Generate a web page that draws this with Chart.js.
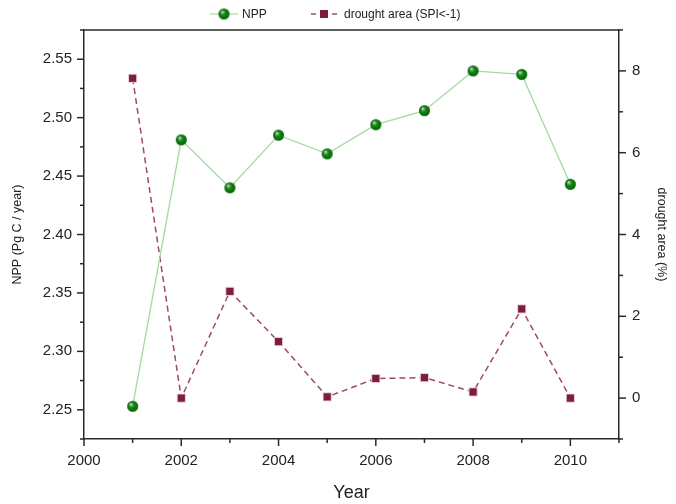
<!DOCTYPE html>
<html>
<head>
<meta charset="utf-8">
<script src="https://cdn.jsdelivr.net/npm/chart.js@4/dist/chart.umd.min.js"></script>
<style>
  html, body { margin: 0; padding: 0; background: #ffffff; }
  #wrap { width: 676px; height: 504px; position: relative; }
</style>
</head>
<body>
<div id="wrap"><canvas id="c" width="676" height="504"></canvas></div>
<script>
// Annual NPP and drought-affected area, 2001-2010
const years = [2001, 2002, 2003, 2004, 2005, 2006, 2007, 2008, 2009, 2010];
const nppValues = [2.253, 2.481, 2.440, 2.485, 2.469, 2.494, 2.506, 2.540, 2.537, 2.443];
const droughtValues = [7.82, 0.00, 2.61, 1.38, 0.03, 0.48, 0.50, 0.15, 2.18, 0.00];

// Axis ranges and tick steps
const xRange = [2000, 2011];
const nppRange = [2.225, 2.575];
const droughtRange = [-1, 9];
const xStep = 1, nppStep = 0.025, droughtStep = 1;

const seriesNames = ['NPP', 'drought area (SPI<-1)'];
const axisTitles = { x: 'Year', y: 'NPP (Pg C / year)', y1: 'drought area (%)' };

const GREEN_LINE = '#a6d9a2';
const MAROON_LINE = '#a0486a';
const MAROON = '#7c1d3e';
const AXIS = '#2a2a2a';
const TEXT = '#222222';
const FONT = "'Liberation Sans', Arial, sans-serif";

// Shaded green sphere used as the NPP marker
function makeSphere(r) {
  const s = Math.ceil(r * 2 + 2);
  const cv = document.createElement('canvas');
  cv.width = s; cv.height = s;
  const g = cv.getContext('2d');
  const cx = s / 2, cy = s / 2;
  const grad = g.createRadialGradient(cx - r * 0.35, cy - r * 0.4, r * 0.08, cx, cy, r);
  grad.addColorStop(0, '#d8d8d8');
  grad.addColorStop(0.22, '#6a9a6a');
  grad.addColorStop(0.45, '#0b8a0b');
  grad.addColorStop(1, '#056005');
  g.fillStyle = grad;
  g.beginPath(); g.arc(cx, cy, r, 0, Math.PI * 2); g.fill();
  return cv;
}
const sphere = makeSphere(5.5);

function xy(xs, ys) { return xs.map((x, i) => ({ x: x, y: ys[i] })); }

function isMajor(scaleId, v) {
  if (scaleId === 'y') return Math.round(v * 40) % 2 === 0;
  return Math.round(v) % 2 === 0;
}

// Outward major/minor tick marks, frame line on top, and the legend row
const decorations = {
  id: 'decorations',
  afterDraw(chart) {
    const ctx = chart.ctx;
    const area = chart.chartArea;
    ctx.save();
    ctx.strokeStyle = AXIS;
    ctx.lineWidth = 1.5;
    // top frame
    ctx.beginPath();
    ctx.moveTo(area.left, area.top);
    ctx.lineTo(area.right, area.top);
    ctx.stroke();
    ['x', 'y', 'y1'].forEach(id => {
      const sc = chart.scales[id];
      sc.ticks.forEach(t => {
        const len = isMajor(id, t.value) ? 7 : 4;
        const p = sc.getPixelForValue(t.value);
        ctx.beginPath();
        if (id === 'x') { ctx.moveTo(p, area.bottom); ctx.lineTo(p, area.bottom + len); }
        else if (id === 'y') { ctx.moveTo(area.left, p); ctx.lineTo(area.left - len, p); }
        else { ctx.moveTo(area.right, p); ctx.lineTo(area.right + len, p); }
        ctx.stroke();
      });
    });

    // legend
    const ly = 14;
    ctx.lineWidth = 1.2;
    ctx.strokeStyle = GREEN_LINE;
    ctx.setLineDash([]);
    ctx.beginPath(); ctx.moveTo(210, ly); ctx.lineTo(238, ly); ctx.stroke();
    ctx.drawImage(sphere, 224 - sphere.width / 2, ly - sphere.height / 2);
    ctx.strokeStyle = MAROON_LINE;
    ctx.lineWidth = 1.5;
    ctx.beginPath(); ctx.moveTo(311, ly); ctx.lineTo(316, ly); ctx.moveTo(332, ly); ctx.lineTo(337, ly); ctx.stroke();
    ctx.fillStyle = MAROON;
    ctx.fillRect(320, ly - 4, 8, 8);
    ctx.fillStyle = TEXT;
    ctx.font = '12px ' + FONT;
    ctx.textBaseline = 'middle';
    ctx.textAlign = 'left';
    ctx.fillText(seriesNames[0], 242, ly + 0.5);
    ctx.fillText(seriesNames[1], 344, ly + 0.5);
    ctx.restore();
  }
};

function tickLabel(id) {
  return function (v) {
    if (!isMajor(id, v)) return '';
    if (id === 'y') return v.toFixed(2);
    return String(Math.round(v));
  };
}

new Chart(document.getElementById('c'), {
  type: 'line',
  data: {
    datasets: [
      {
        label: seriesNames[0],
        data: xy(years, nppValues),
        yAxisID: 'y',
        borderColor: GREEN_LINE,
        borderWidth: 1.3,
        pointStyle: sphere,
        pointRadius: 5.5,
        pointHoverRadius: 5.5,
        tension: 0,
        fill: false
      },
      {
        label: seriesNames[1],
        data: xy(years, droughtValues),
        yAxisID: 'y1',
        borderColor: MAROON_LINE,
        borderWidth: 1.5,
        borderDash: [6, 4],
        pointStyle: 'rect',
        pointRadius: 5.8,
        pointHoverRadius: 5.8,
        pointBackgroundColor: MAROON,
        pointBorderColor: 'rgba(240,215,225,0.9)',
        pointBorderWidth: 1,
        tension: 0,
        fill: false
      }
    ]
  },
  options: {
    responsive: false,
    animation: false,
    events: [],
    layout: { padding: { top: 30, left: 0, right: 0, bottom: 0 } },
    plugins: { legend: { display: false }, tooltip: { enabled: false } },
    scales: {
      x: {
        type: 'linear',
        min: xRange[0], max: xRange[1],
        ticks: { stepSize: xStep, autoSkip: false, maxRotation: 0, callback: tickLabel('x'),
                 color: TEXT, font: { family: FONT, size: 15 }, padding: 6 },
        grid: { display: false, drawTicks: true, tickLength: 7 },
        border: { display: true, color: AXIS, width: 1.5 },
        title: { display: true, text: axisTitles.x, color: TEXT,
                 font: { family: FONT, size: 18 }, padding: { top: 4, bottom: 0 } },
        afterFit(s) { s.height = 65; }
      },
      y: {
        type: 'linear', position: 'left',
        min: nppRange[0], max: nppRange[1],
        ticks: { stepSize: nppStep, autoSkip: false, callback: tickLabel('y'),
                 color: TEXT, font: { family: FONT, size: 15 }, padding: 5 },
        grid: { display: false, drawTicks: true, tickLength: 7 },
        border: { display: true, color: AXIS, width: 1.5 },
        title: { display: true, text: axisTitles.y, color: TEXT,
                 font: { family: FONT, size: 12.5 }, padding: { top: 10, bottom: 0 } },
        afterFit(s) { s.width = 84; }
      },
      y1: {
        type: 'linear', position: 'right',
        min: droughtRange[0], max: droughtRange[1],
        ticks: { stepSize: droughtStep, autoSkip: false, callback: tickLabel('y1'),
                 color: TEXT, font: { family: FONT, size: 15 }, padding: 6 },
        grid: { display: false, drawTicks: true, tickLength: 7 },
        border: { display: true, color: AXIS, width: 1.5 },
        title: { display: true, text: axisTitles.y1, color: TEXT,
                 font: { family: FONT, size: 12.5 }, padding: { top: 7, bottom: 0 } },
        afterFit(s) { s.width = 57; }
      }
    }
  },
  plugins: [decorations]
});
</script>
</body>
</html>
